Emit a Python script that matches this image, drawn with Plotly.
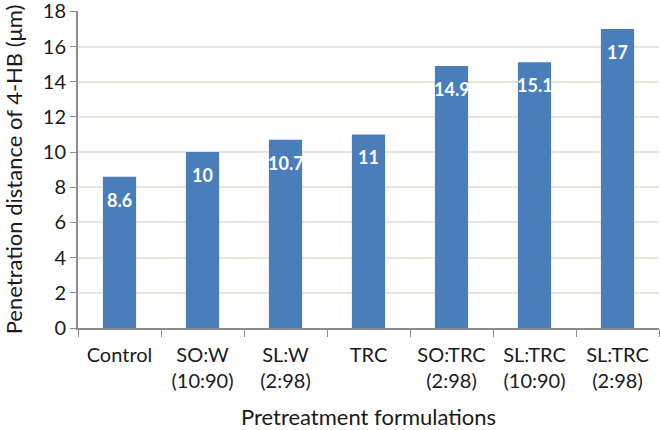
import plotly.graph_objects as go

categories = ["Control", "SO:W<br>(10:90)", "SL:W<br>(2:98)", "TRC",
              "SO:TRC<br>(2:98)", "SL:TRC<br>(10:90)", "SL:TRC<br>(2:98)"]
values = [8.6, 10, 10.7, 11, 14.9, 15.1, 17]
labels = ["8.6", "10", "10.7", "11", "14.9", "15.1", "17"]
y_ticks = [0, 2, 4, 6, 8, 10, 12, 14, 16, 18]

font_family = "Lato, Open Sans, sans-serif"

fig = go.Figure()
fig.add_trace(go.Bar(
    x=categories, y=values,
    marker=dict(color="#4A7EBB", line=dict(width=0)),
    hoverinfo="x+y",
))

# value labels inside the bars, a little below the top (Excel "inside end")
for cat, val, lbl in zip(categories, values, labels):
    fig.add_annotation(
        x=cat, y=val, text=f"<b>{lbl}</b>", showarrow=False,
        yanchor="middle", yshift=-23,
        font=dict(color="white", size=18, family=font_family),
    )

fig.update_layout(
    width=660, height=430,
    margin=dict(l=78, r=1, t=11, b=102),
    plot_bgcolor="white", paper_bgcolor="white",
    bargap=0.6,
    showlegend=False,
    font=dict(family=font_family, size=20, color="#1a1a1a"),
)
fig.update_xaxes(
    title=dict(text="Pretreatment formulations", font=dict(size=22), standoff=22),
    showline=True, linecolor="#8c8c8c", linewidth=2,
    ticks="outside", tickson="boundaries", ticklen=7, tickcolor="#8c8c8c",
    tickfont=dict(size=20), ticklabelstandoff=8, automargin=False,
)
fig.update_yaxes(
    title=dict(text="Penetration distance of 4-HB (μm)", font=dict(size=22), standoff=14),
    range=[0, 18.02], tickvals=y_ticks,
    showline=True, linecolor="#8c8c8c", linewidth=2,
    ticks="outside", ticklen=6, tickcolor="#8c8c8c",
    gridcolor="#e8e6dc", gridwidth=1.5, zeroline=False,
    tickfont=dict(size=20), automargin=False, ticklabeloverflow="allow",
)

# page body has an 8px default margin; drop it so the figure sits at 0,0
fig.write_html("out.html", config={"displayModeBar": False},
               post_script="document.body.style.margin='0';")
